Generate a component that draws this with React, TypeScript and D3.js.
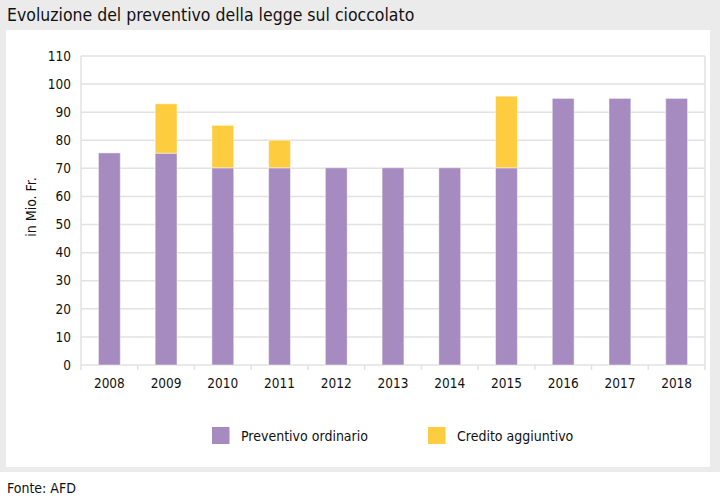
import React from "react";
import * as d3 from "d3";

const years = ["2008", "2009", "2010", "2011", "2012", "2013", "2014", "2015", "2016", "2017", "2018"];
const ordinario = [75.5, 75.4, 70.2, 70.2, 70.2, 70.2, 70.2, 70.2, 94.9, 94.9, 94.9];
const aggiuntivo = [0, 17.6, 15.1, 9.8, 0, 0, 0, 25.5, 0, 0, 0];
const yTicks = [0, 10, 20, 30, 40, 50, 60, 70, 80, 90, 100, 110];
const seriesNames = ["Preventivo ordinario", "Credito aggiuntivo"];
const colors = ["#a68bc1", "#fecd3f"];

const W = 720;
const H = 499;
const FONT = "'DejaVu Sans Condensed', 'Liberation Sans Narrow', 'Roboto', sans-serif";

export default function App() {
  const left = 81, right = 705, top = 56, bottom = 365;
  const x = d3.scaleBand<string>().domain(years).range([left, right]).padding(0);
  const y = d3.scaleLinear().domain([0, 110]).range([bottom, top]);
  const bw = x.bandwidth() * 0.385;
  const grid = "#e2e2e2";

  const stack = d3.stack<number>().keys(["0", "1"]).value((i, k) => (k === "0" ? ordinario[i] : aggiuntivo[i]));
  const layers = stack(years.map((_, i) => i));

  return (
    <svg width={W} height={H} style={{ display: "block", position: "absolute", left: 0, top: 0 }} fontFamily={FONT}>
      <rect x={0} y={0} width={W} height={472} fill="#ebebeb" />
      <rect x={6} y={30} width={704} height={437} fill="#ffffff" />
      <text x={7} y={21} fontSize={17.5} fontWeight={500} fill="#111">Evoluzione del preventivo della legge sul cioccolato</text>

      {yTicks.map((t) => (
        <g key={t}>
          <line x1={left} x2={right} y1={y(t)} y2={y(t)} stroke={grid} strokeWidth={1.5} />
          <text x={71} y={y(t)} dy="0.35em" textAnchor="end" fontSize={13.5} fill="#111">{t}</text>
        </g>
      ))}
      <line x1={left} x2={left} y1={y(110)} y2={bottom} stroke={grid} strokeWidth={1.5} />
      <line x1={right} x2={right} y1={y(110)} y2={bottom + 5} stroke={grid} strokeWidth={1.5} />
      {years.map((yr) => (
        <line key={"t" + yr} x1={x(yr)!} x2={x(yr)!} y1={bottom} y2={bottom + 5} stroke={grid} strokeWidth={1.5} />
      ))}
      <text transform={`translate(36,207) rotate(-90)`} textAnchor="middle" fontSize={14} fill="#111">in Mio. Fr.</text>

      {layers.map((layer, li) => (
        <g key={li} fill={colors[li]}>
          {layer.map((d, i) => {
            const h = y(d[0]) - y(d[1]);
            if (h <= 0) return null;
            return (
              <rect
                key={i}
                x={x(years[i])! + x.bandwidth() / 2 - bw / 2}
                y={y(d[1])}
                width={bw}
                height={h}
                stroke="#ffffff"
                strokeOpacity={0.45}
                strokeWidth={1}
              />
            );
          })}
        </g>
      ))}

      {years.map((yr) => (
        <text key={"l" + yr} x={x(yr)! + x.bandwidth() / 2} y={388} textAnchor="middle" fontSize={13.5} fill="#111">{yr}</text>
      ))}

      {seriesNames.map((n, i) => {
        const lx = [212, 428][i];
        return (
          <g key={n}>
            <rect x={lx} y={427} width={17.5} height={17} fill={colors[i]} />
            <text x={lx + 29} y={441} fontSize={14} fill="#111">{n}</text>
          </g>
        );
      })}

      <text x={7} y={493} fontSize={14} fill="#111">Fonte: AFD</text>
    </svg>
  );
}
